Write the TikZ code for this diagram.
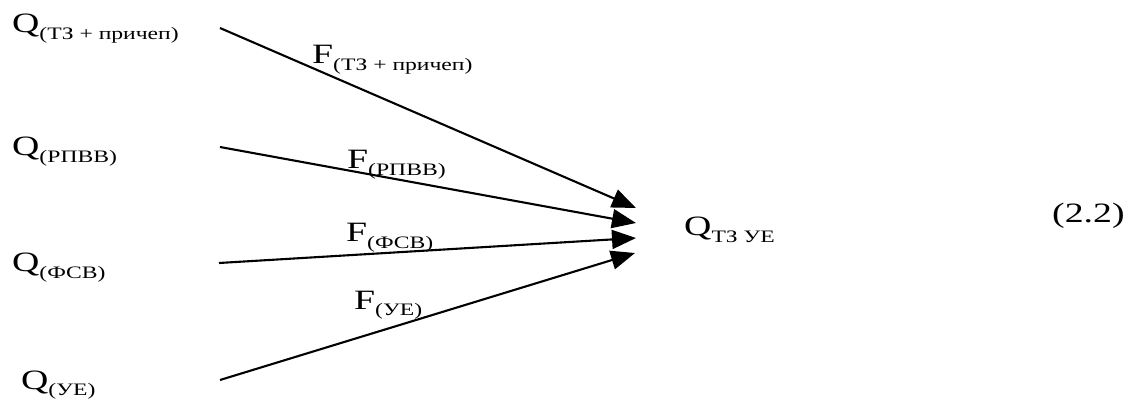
\documentclass[tikz,border=0pt]{standalone}
\usepackage{fontspec}
\setmainfont{Liberation Serif}
\usetikzlibrary{arrows.meta}
\newcommand{\lbl}[2]{\scalebox{1.35}[1]{#1\raisebox{-6.5pt}{\fontsize{17.5}{17.5}\selectfont #2}}}
\tikzset{
  lab/.style={anchor=base west, inner sep=0pt, font=\fontsize{28}{28}\selectfont},
  flow/.style={line width=2.1pt, -{Triangle[length=24pt,width=19pt]}}
}
\begin{document}
\begin{tikzpicture}[x=1pt,y=-1pt]
\useasboundingbox (0,0) rectangle (1135,403);
% source labels
\node[lab] (q1) at (12,33) {\lbl{Q}{(ТЗ + причеп)}};
\node[lab] (q2) at (12,156) {\lbl{Q}{(РПВВ)}};
\node[lab] (q3) at (12,272) {\lbl{Q}{(ФСВ)}};
\node[lab] (q4) at (21,389) {\lbl{Q}{(УЕ)}};
% target label
\node[lab] (qt) at (684,236) {\lbl{Q}{ТЗ УЕ}};
% equation number
\node[lab] (eq) at (1052,223) {\scalebox{1.35}[1]{(2.2)}};
% connector ends
\coordinate (s1) at (220,28);
\coordinate (s2) at (220,147);
\coordinate (s3) at (219,263);
\coordinate (s4) at (220,380);
\coordinate (t1) at (636,208);
\coordinate (t2) at (636,223);
\coordinate (t3) at (636,238);
\coordinate (t4) at (635,253);
\draw[flow] (s1) -- (t1);
\draw[flow] (s2) -- (t2);
\draw[flow] (s3) -- (t3);
\draw[flow] (s4) -- (t4);
% flow labels
\node[lab] (f1) at (312,64) {\lbl{F}{(ТЗ + причеп)}};
\node[lab] (f2) at (347,169) {\lbl{F}{(РПВВ)}};
\node[lab] (f3) at (346,242) {\lbl{F}{(ФСВ)}};
\node[lab] (f4) at (354,309) {\lbl{F}{(УЕ)}};
\end{tikzpicture}
\end{document}
